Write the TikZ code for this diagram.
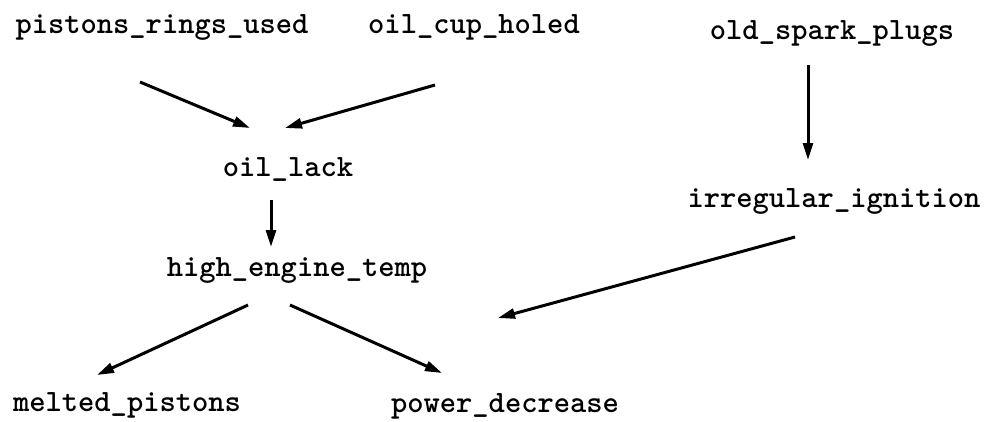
\documentclass[tikz,border=0pt]{standalone}
\usepackage{fontspec}
\usetikzlibrary{arrows.meta}
\begin{document}
\begin{tikzpicture}[x=1pt,y=-1pt,
  fact/.style={anchor=base,inner sep=0pt,font=\fontsize{31}{36}\selectfont\ttfamily\bfseries},
  link/.style={line width=3pt,-{Triangle[length=17pt,width=10pt]}}]
\useasboundingbox (0,0) rectangle (987,421);
% facts, placed by their baselines
\node[fact] (pr) at (162,33)  {pistons\_rings\_used};
\node[fact] (oc) at (474,33)  {oil\_cup\_holed};
\node[fact] (os) at (832,39)  {old\_spark\_plugs};
\node[fact] (ol) at (288,176) {oil\_lack};
\node[fact] (ii) at (834,207) {irregular\_ignition};
\node[fact] (ht) at (297,276) {high\_engine\_temp};
\node[fact] (mp) at (127,411) {melted\_pistons};
\node[fact] (pd) at (505,412) {power\_decrease};
% ends of the causal links
\coordinate (pr-o) at (140,82);  \coordinate (ol-a) at (250,128);
\coordinate (oc-o) at (435,85);  \coordinate (ol-b) at (285,128);
\coordinate (ol-o) at (271,200); \coordinate (ht-i) at (271,247);
\coordinate (os-o) at (808,65);  \coordinate (ii-i) at (808,160);
\coordinate (ii-o) at (795,237); \coordinate (pd-b) at (498,318);
\coordinate (ht-a) at (248,305); \coordinate (mp-i) at (97,375);
\coordinate (ht-b) at (290,305); \coordinate (pd-a) at (442,373);
\draw[link] (pr-o) -- (ol-a);
\draw[link] (oc-o) -- (ol-b);
\draw[link] (ol-o) -- (ht-i);
\draw[link] (os-o) -- (ii-i);
\draw[link] (ii-o) -- (pd-b);
\draw[link] (ht-a) -- (mp-i);
\draw[link] (ht-b) -- (pd-a);
\end{tikzpicture}
\end{document}
